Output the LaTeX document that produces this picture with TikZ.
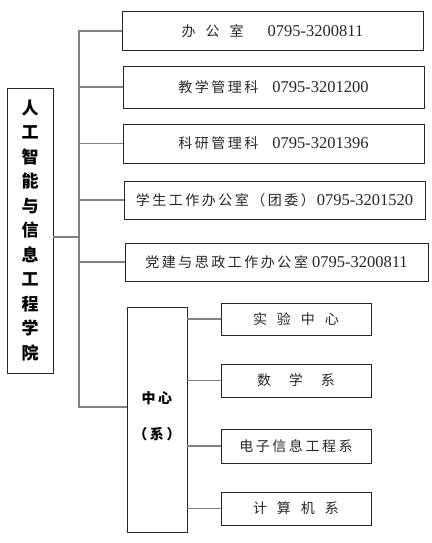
\documentclass[tikz,border=0pt]{standalone}
\usepackage{fontspec}
\setmainfont{Liberation Serif}
\newfontfamily\cjk[LetterSpace=18]{Noto Sans CJK SC}
\usetikzlibrary{positioning, calc}

\begin{document}
\begin{tikzpicture}[
    x=1pt, y=-1pt,
    box/.style={rectangle, draw=black!85, line width=0.9pt, inner sep=0pt, text=black!85,
        font=\fontsize{16.5}{18}\selectfont},
    unit/.style={box, minimum width=301pt, minimum height=39pt},
    dept/.style={box, minimum width=150pt, minimum height=33pt},
    link/.style={draw=black!50, line width=1.8pt}
]
\useasboundingbox (0,0) rectangle (431,543);

% College
\node (college) [box, minimum width=46pt, minimum height=285pt, align=center, text=black,
    font=\cjk\fontsize{17}{24.5}\selectfont\bfseries] at (30,230.5)
    {人\\工\\智\\能\\与\\信\\息\\工\\程\\学\\院};

% Offices
\node (office) [unit] at (272.5,31) {{\cjk\fontsize{14}{16}\selectfont 办\hspace{10pt}公\hspace{10pt}室}\hspace{24pt}0795-3200811};
\node (teach) [unit, minimum height=42pt] at (273.5,87) {{\cjk\fontsize{14}{16}\selectfont 教学管理科}\hspace{14pt}0795-3201200};
\node (research) [unit] at (273.5,143.5) {{\cjk\fontsize{14}{16}\selectfont 科研管理科}\hspace{14pt}0795-3201396};
\node (student) [unit, minimum height=38pt] at (274.5,200) {{\cjk\fontsize{14}{16}\selectfont 学生工作办公室（团委）}\hspace{2pt}0795-3201520};
\node (party) [unit, minimum width=303pt, minimum height=38pt] at (276.5,262) {{\cjk\fontsize{14}{16}\selectfont 党建与思政工作办公室}\hspace{4pt}0795-3200811};

% Centre (departments)
\node (centre) [box, minimum width=60pt, minimum height=225pt] at (157,419.5) {};
\node [font=\cjk\fontsize{14}{16}\selectfont\bfseries] at (157,398) {中心};
\node [font=\cjk\fontsize{14}{16}\selectfont\bfseries] at (157,434) {（系）};

\node (lab) [dept, minimum height=32pt] at (296,319) {\cjk\fontsize{14}{16}\selectfont 实\hspace{10pt}验\hspace{10pt}中\hspace{10pt}心};
\node (math) [dept] at (296,380.5) {\cjk\fontsize{14}{16}\selectfont 数\hspace{18pt}学\hspace{18pt}系};
\node (elec) [dept, minimum height=34pt] at (296,446) {\cjk\fontsize{14}{16}\selectfont 电子信息工程系};
\node (comp) [dept] at (296,508.5) {\cjk\fontsize{14}{16}\selectfont 计\hspace{10pt}算\hspace{10pt}机\hspace{10pt}系};

% Links
\coordinate (join) at (79,237);
\coordinate (trunk end) at (79,407);
\draw [link] (join -| college.east) -- (join);
\draw [link] (office.west) -| (trunk end) -- (trunk end -| centre.west);
\draw [link] (teach.west) -- (teach.west -| join);
\draw [link] (research.west) -- (research.west -| join);
\draw [link] (student.west) -- (student.west -| join);
\draw [link] (party.west) -- (party.west -| join);
\draw [link] (centre.east |- lab.west) -- (lab.west);
\draw [link] (centre.east |- math.west) -- (math.west);
\draw [link] (centre.east |- elec.west) -- (elec.west);
\draw [link] (centre.east |- comp.west) -- (comp.west);

\end{tikzpicture}
\end{document}
